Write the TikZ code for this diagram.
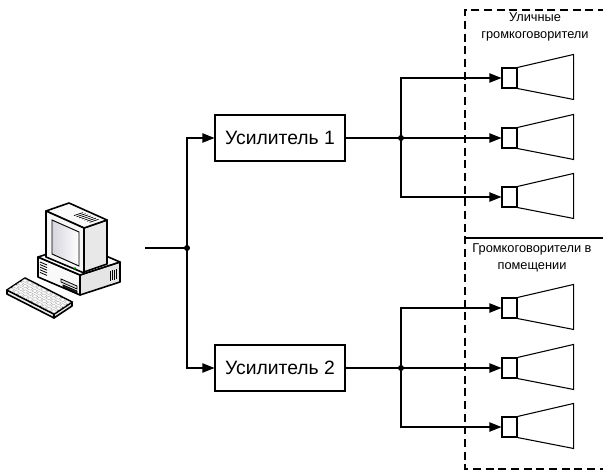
\documentclass[tikz,border=0pt]{standalone}
\usepackage{fontspec}
\setmainfont{Liberation Sans}
\usetikzlibrary{arrows.meta}

\begin{document}
\begin{tikzpicture}[
    x=0.75pt, y=-0.75pt,
    line width=0.8pt,
    amp/.style={rectangle, draw, minimum width=97.5pt, minimum height=34.5pt, font=\fontsize{14.5}{17}\selectfont},
    spk/.style={rectangle, draw, fill=white, minimum width=11.25pt, minimum height=15pt, inner sep=0pt},
    zone/.style={align=center, font=\fontsize{9.6}{12.75}\selectfont},
    feed/.style={-{Triangle[length=9pt,width=7pt]}},
    dot/.style={circle, fill, inner sep=0pt, minimum size=4.5pt},
    case/.style={draw, line width=1.2pt, line join=round}
]
    \useasboundingbox (0,0) rectangle (603,470);

    % Компьютер: системный блок
    \draw[case, fill=gray!5] (38,257) -- (80,275) -- (80,295) -- (38,277) -- cycle;
    \draw[case, fill=gray!20] (80,275) -- (120,262) -- (120,282) -- (80,295) -- cycle;
    \draw[case, fill=gray!3] (38,257) -- (78,244) -- (120,262) -- (80,275) -- cycle;
    \foreach \i in {0,...,4}
        \draw[line width=0.6pt] (40,{262+2.6*\i}) -- (47,{265+2.6*\i});
    \foreach \i in {0,...,3}
        \draw[line width=0.6pt] ({110+2*\i},{271-0.7*\i}) -- ({110+2*\i},{281-0.7*\i});
    \draw[line width=0.6pt, fill=gray!25] (61,279) -- (77,286) -- (77,289) -- (61,282) -- cycle;
    \draw[line width=0.6pt, fill=black!80] (63,285) -- (77,291) -- (77,293) -- (63,287) -- cycle;

    % Компьютер: монитор
    \draw[case, fill=gray!18] (84,228) -- (107,220) -- (107,264) -- (84,272) -- cycle;
    \draw[case, fill=gray!4] (46,211) -- (69,203) -- (107,220) -- (84,228) -- cycle;
    \foreach \t in {0.45,0.52,...,0.9}
        \draw[line width=0.5pt] ({47+37*\t+23*0.45},{212+16*\t-8*0.45}) -- ++(9,-3);
    \draw[case, fill=gray!6] (46,211) -- (84,228) -- (84,273) -- (46,257) -- cycle;
    \shade[left color=blue!10!gray!30, right color=white, draw, line width=0.7pt]
        (52,220) -- (79,232) -- (79,266) -- (52,254) -- cycle;
    \fill[green!50!black] (75,268.5) circle (1.3);

    % Компьютер: клавиатура
    \draw[case, fill=gray!15] (7,290) -- (54,314) -- (54,318) -- (7,294) -- cycle;
    \draw[case, fill=gray!25] (54,314) -- (72,302) -- (72,306) -- (54,318) -- cycle;
    \draw[case, fill=gray!3] (7,290) -- (25,278) -- (72,302) -- (54,314) -- cycle;
    \foreach \r in {0,...,3}
        \foreach \c in {0,...,9}
            \draw[line width=0.25pt, draw=gray!70, fill=white]
                ({25+4.7*(\c+0.15)-4.5*(\r+0.2)},{278+2.4*(\c+0.15)+3*(\r+0.2)})
                -- ++(3.3,1.7) -- ++(-2.7,1.8) -- ++(-3.3,-1.7) -- cycle;
    \coordinate (pc) at (145,248);

    % Зоны громкоговорителей
    \draw[dashed, dash pattern=on 6pt off 3.5pt] (606,10) -- (465,10) -- (465,469) -- (606,469);
    \draw (465,238) -- (606,238);
    \node[zone] (outdoor) at (535,27) {Уличные\\громкоговорители};
    \node[zone] (indoor) at (532,258) {Громкоговорители в\\помещении};

    % Усилители
    \node[amp] (amp1) at (280,138) {Усилитель 1};
    \node[amp] (amp2) at (280,368) {Усилитель 2};

    % Громкоговорители
    \node[spk] (out1) at (509.5,78) {};
    \node[spk] (out2) at (509.5,138) {};
    \node[spk] (out3) at (509.5,197) {};
    \node[spk] (in1) at (509.5,308) {};
    \node[spk] (in2) at (509.5,368) {};
    \node[spk] (in3) at (509.5,427) {};
    \foreach \s in {out1,out2,out3,in1,in2,in3}
        \draw (\s.north east) -- ++(56,-13) -- ++(0,45) -- (\s.south east);

    % Точки разветвления
    \node[dot] (split) at (187,248) {};
    \node[dot] (bus1) at (401,138) {};
    \node[dot] (bus2) at (401,368) {};

    % Соединения
    \draw (pc) -- (split.center);
    \draw[feed] (split.center) |- (amp1.west);
    \draw[feed] (split.center) |- (amp2.west);
    \draw (amp1.east) -- (bus1.center);
    \draw (amp2.east) -- (bus2.center);
    \foreach \s in {out1,out2,out3}
        \draw[feed] (bus1.center) |- (\s.west);
    \foreach \s in {in1,in2,in3}
        \draw[feed] (bus2.center) |- (\s.west);
\end{tikzpicture}
\end{document}
